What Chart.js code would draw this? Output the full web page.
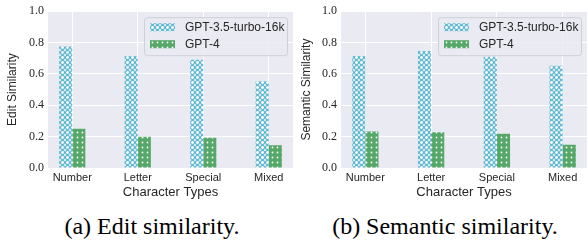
<!DOCTYPE html>
<html>
<head>
<meta charset="utf-8">
<script src="https://cdn.jsdelivr.net/npm/chart.js@4"></script>
<style>
  body { margin: 0; background: #fff; width: 588px; height: 246px; position: relative; overflow: hidden; }
  .panel { position: absolute; top: 0; width: 294px; height: 200px; }
  .caption { position: absolute; top: 213px; line-height: 26px; font-family: "Liberation Serif", serif; font-size: 24px; color: #000; transform: translateX(-50%); white-space: nowrap; }
</style>
</head>
<body>
<div class="panel" style="left:0"><canvas id="edit" width="294" height="200"></canvas></div>
<div class="panel" style="left:294px"><canvas id="semantic" width="294" height="200"></canvas></div>
<div class="caption" style="left:152px">(a) Edit similarity.</div>
<div class="caption" style="left:445px">(b) Semantic similarity.</div>
<script>
const categories = ["Number", "Letter", "Special", "Mixed"];
const seriesNames = ["GPT-3.5-turbo-16k", "GPT-4"];
const editGpt35 = [0.775, 0.715, 0.69, 0.553];
const editGpt4 = [0.25, 0.20, 0.193, 0.145];
const semanticGpt35 = [0.715, 0.746, 0.71, 0.652];
const semanticGpt4 = [0.233, 0.228, 0.218, 0.149];
const yTicks = [0, 0.2, 0.4, 0.6, 0.8, 1.0];

const SANS = "'Liberation Sans', Arial, sans-serif";
const SERIF = "'Liberation Serif', serif";
const TEXT = "#262626";

// hatch-like fills for the two series
function makePattern(kind) {
    const tile = document.createElement("canvas");
    tile.width = 5;
    tile.height = 5;
    const c = tile.getContext("2d");
    if (kind === "ring") {
        c.fillStyle = "#ffffff";
        c.fillRect(0, 0, 5, 5);
        c.strokeStyle = "#5fb6cf";
        c.lineWidth = 1.1;
        c.beginPath();
        c.arc(2.5, 2.5, 2, 0, Math.PI * 2);
        c.stroke();
    } else {
        c.fillStyle = "#55a868";
        c.fillRect(0, 0, 5, 5);
        c.fillStyle = "#ffffff";
        c.beginPath();
        c.arc(2.5, 2.5, 0.9, 0, Math.PI * 2);
        c.fill();
    }
    return c.createPattern(tile, "repeat");
}

const bluePattern = makePattern("ring");
const greenPattern = makePattern("dot");

const plotBackground = {
    id: "plotBackground",
    beforeDraw(chart) {
        const { ctx, chartArea: a } = chart;
        ctx.save();
        ctx.fillStyle = "#eaeaf2";
        ctx.fillRect(a.left, a.top, a.right - a.left, a.bottom - a.top);
        ctx.restore();
    },
};

const boxLegend = {
    id: "boxLegend",
    afterDatasetsDraw(chart) {
        const { ctx, chartArea: a } = chart;
        const w = 143, h = 38;
        const x = a.right - 6 - w, y = a.top + 6;
        ctx.save();
        ctx.fillStyle = "rgba(234,234,242,0.85)";
        ctx.strokeStyle = "#cfcfd8";
        ctx.lineWidth = 1;
        ctx.beginPath();
        ctx.roundRect(x + 0.5, y + 0.5, w, h, 3);
        ctx.fill();
        ctx.stroke();
        chart.data.datasets.forEach((ds, i) => {
            const cy = y + 10 + i * 17;
            ctx.fillStyle = ds.backgroundColor;
            ctx.fillRect(x + 6, cy - 4, 25, 8);
            ctx.fillStyle = TEXT;
            ctx.font = "12px " + SANS;
            ctx.textBaseline = "middle";
            ctx.fillText(ds.label, x + 41, cy + 0.5);
        });
        ctx.restore();
    },
};

function makeChart(id, yTitle, gpt35, gpt4, yWidth) {
    return new Chart(document.getElementById(id), {
        type: "bar",
        data: {
            datasets: [
                {
                    label: seriesNames[0],
                    data: gpt35.map((v, i) => ({ x: i, y: v })),
                    backgroundColor: bluePattern,
                    borderWidth: 0,
                    categoryPercentage: 0.4,
                    barPercentage: 1,
                },
                {
                    label: seriesNames[1],
                    data: gpt4.map((v, i) => ({ x: i, y: v })),
                    backgroundColor: greenPattern,
                    borderWidth: 0,
                    categoryPercentage: 0.4,
                    barPercentage: 1,
                },
            ],
        },
        options: {
            responsive: false,
            animation: false,
            layout: { padding: { top: 9, right: 1, left: 0, bottom: 0 } },
            plugins: { legend: { display: false }, tooltip: { enabled: false } },
            scales: {
                x: {
                    type: "linear",
                    min: -0.37,
                    max: 3.37,
                    offset: false,
                    grid: { color: "#ffffff", lineWidth: 1, drawTicks: false, offset: false },
                    border: { display: false },
                    afterBuildTicks: (s) => { s.ticks = categories.map((c, i) => ({ value: i })); },
                    afterFit: (s) => { s.height = 32; },
                    ticks: {
                        autoSkip: false,
                        maxRotation: 0,
                        padding: 3,
                        color: TEXT,
                        font: { family: SANS, size: 11 },
                        callback: (v) => categories[v],
                    },
                    title: {
                        display: true,
                        text: "Character Types",
                        color: TEXT,
                        font: { family: SANS, size: 13 },
                        padding: { top: 0, bottom: 0 },
                    },
                },
                y: {
                    min: 0,
                    max: 1,
                    grid: { color: "#ffffff", lineWidth: 1, drawTicks: false },
                    border: { display: false },
                    afterBuildTicks: (s) => { s.ticks = yTicks.map((v) => ({ value: v })); },
                    afterFit: (s) => { s.width = yWidth; },
                    ticks: {
                        padding: 4,
                        color: TEXT,
                        font: { family: SERIF, size: 12 },
                        callback: (v) => v.toFixed(1),
                    },
                    title: {
                        display: true,
                        text: yTitle,
                        color: TEXT,
                        font: { family: SANS, size: 12 },
                        padding: { top: 5, bottom: 0 },
                    },
                },
            },
        },
        plugins: [plotBackground, boxLegend],
    });
}

makeChart("edit", "Edit Similarity", editGpt35, editGpt4, 48);
makeChart("semantic", "Semantic Similarity", semanticGpt35, semanticGpt4, 47);
</script>
</body>
</html>
